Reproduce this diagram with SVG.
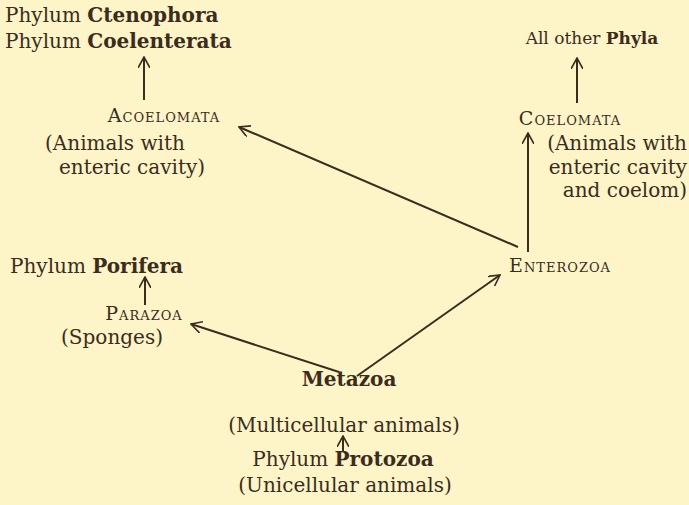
<svg xmlns="http://www.w3.org/2000/svg" width="689" height="505" viewBox="0 0 689 505">
<defs>
<style>
text{font-family:"DejaVu Serif","Liberation Serif",serif;fill:#3b2c1c;font-size:20px}
.b{font-weight:bold}
.sc{font-variant:small-caps;font-size:19px;letter-spacing:1px}
.c{stroke:#3b2c1c;stroke-width:2;fill:none;marker-end:url(#ah)}
</style>
<marker id="ah" viewBox="0 0 12 12" refX="11" refY="6" markerWidth="12" markerHeight="12" markerUnits="userSpaceOnUse" orient="auto">
<path d="M0,0 L11,6 L0,12" fill="none" stroke="#3b2c1c" stroke-width="1.6"/>
</marker>
</defs>
<rect width="689" height="505" fill="#fdf4c8"/>
<g id="connectors">
<line class="c" x1="144" y1="100" x2="144" y2="57"/>
<line class="c" x1="577" y1="103" x2="577" y2="58"/>
<line class="c" x1="528" y1="252" x2="528" y2="133"/>
<line class="c" x1="145" y1="305" x2="145" y2="277"/>
<line class="c" x1="518" y1="247" x2="239" y2="127"/>
<line class="c" x1="339" y1="372" x2="191" y2="324"/>
<line class="c" x1="357" y1="376" x2="500" y2="275"/>
<line class="c" x1="343" y1="451" x2="343" y2="436"/>
</g>
<g id="ctenophora"><text x="5" y="22">Phylum <tspan class="b">Ctenophora</tspan></text></g>
<g id="coelenterata"><text x="5" y="48">Phylum <tspan class="b">Coelenterata</tspan></text></g>
<g id="acoelomata">
<text class="sc" x="164" y="122" text-anchor="middle">Acoelomata</text>
<text x="115" y="150" text-anchor="middle">(Animals with</text>
<text x="132" y="174" text-anchor="middle">enteric cavity)</text>
</g>
<g id="otherphyla"><text x="592" y="44" text-anchor="middle" style="font-size:17px">All other <tspan class="b">Phyla</tspan></text></g>
<g id="coelomata">
<text class="sc" x="570" y="125" text-anchor="middle">Coelomata</text>
<text x="687" y="150" text-anchor="end">(Animals with</text>
<text x="687" y="174" text-anchor="end">enteric cavity</text>
<text x="687" y="197" text-anchor="end">and coelom)</text>
</g>
<g id="porifera"><text x="10" y="273">Phylum <tspan class="b">Porifera</tspan></text></g>
<g id="parazoa">
<text class="sc" x="144" y="320" text-anchor="middle">Parazoa</text>
<text x="112" y="344" text-anchor="middle">(Sponges)</text>
</g>
<g id="enterozoa"><text class="sc" x="560" y="272" text-anchor="middle">Enterozoa</text></g>
<g id="metazoa">
<text class="b" x="349" y="386" text-anchor="middle">Metazoa</text>
<text x="344" y="432" text-anchor="middle">(Multicellular animals)</text>
</g>
<g id="protozoa">
<text x="343" y="466" text-anchor="middle">Phylum <tspan class="b">Protozoa</tspan></text>
<text x="345" y="492" text-anchor="middle">(Unicellular animals)</text>
</g>
</svg>
